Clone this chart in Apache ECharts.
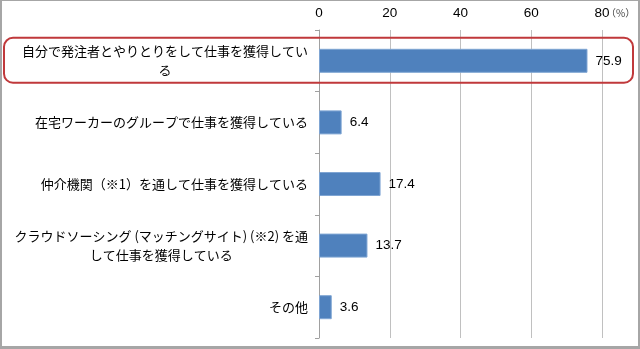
<!DOCTYPE html>
<html>
<head>
<meta charset="utf-8">
<script src="https://cdn.jsdelivr.net/npm/echarts@6/dist/echarts.min.js"></script>
<style>
html,body{margin:0;padding:0;background:#fff;}
#frame{position:absolute;left:0;top:0;width:640px;height:349px;box-sizing:border-box;border-style:solid;border-color:#a6a6a6;border-width:1px 2px 3px 2px;}
#chart{position:absolute;left:0;top:0;width:640px;height:349px;}
</style>
</head>
<body>
<div id="chart"></div>
<div id="frame"></div>
<script>
const categories = [
  '自分で発注者とやりとりをして仕事を獲得してい\nる',
  '在宅ワーカーのグループで仕事を獲得している',
  '仲介機関（※1）を通して仕事を獲得している',
  'クラウドソーシング (マッチングサイト) (※2) を通\nして仕事を獲得している',
  'その他'
];
const values = [75.9, 6.4, 17.4, 13.7, 3.6];
const xTicks = { min: 0, max: 80, interval: 20 };
const unitLabel = '（%）';

const chart = echarts.init(document.getElementById('chart'), null, { renderer: 'canvas' });
const jp = '"Noto Sans CJK JP", "Noto Sans", sans-serif';
const option = {
  animation: false,
  backgroundColor: '#fff',
  grid: { left: 319, right: 38, top: 30, bottom: 11, containLabel: false, outerBoundsMode: 'none' },
  xAxis: {
    type: 'value', position: 'top',
    min: xTicks.min, max: xTicks.max, interval: xTicks.interval,
    axisLine: { show: false }, axisTick: { show: false },
    axisLabel: { margin: 10, color: '#000', fontSize: 13.5, fontFamily: '"Liberation Sans", sans-serif' },
    splitLine: { show: true, lineStyle: { color: '#c0c0c0', width: 1 } }
  },
  yAxis: {
    type: 'category', inverse: true, data: categories,
    axisLine: { show: true, lineStyle: { color: '#a0a0a0', width: 1 } },
    axisTick: { show: true, length: 4, lineStyle: { color: '#a0a0a0' } },
    axisLabel: {
      margin: 11, color: '#000', fontSize: 13, fontFamily: jp, lineHeight: 19,
      formatter: function (v) { return v.split('\n').map(s => '{c|' + s + '}').join('\n'); },
      rich: { c: { align: 'center', fontSize: 13, fontFamily: jp, color: '#000', lineHeight: 19 } }
    }
  },
  series: [{
    type: 'bar', data: values, barWidth: 24,
    itemStyle: { color: '#4F81BD', borderColor: '#7fa5d3', borderWidth: 1 },
    label: { show: true, position: 'right', distance: 8, color: '#000', fontSize: 13.5, fontFamily: '"Liberation Sans", sans-serif', formatter: p => p.value.toFixed(1) }
  }]
};
chart.setOption(option);

const c0 = chart.convertToPixel({ yAxisIndex: 0 }, 0);
chart.setOption({
  graphic: [
    { type: 'rect', shape: { x: 4, y: c0 - 23, width: 629, height: 45, r: 9 }, style: { fill: 'none', stroke: '#c0393b', lineWidth: 2 }, z: 100 },
    { type: 'text', x: 606, y: 8, style: { text: unitLabel, fontSize: 10, fill: '#444', fontFamily: jp }, z: 100 }
  ]
});
</script>
</body>
</html>
